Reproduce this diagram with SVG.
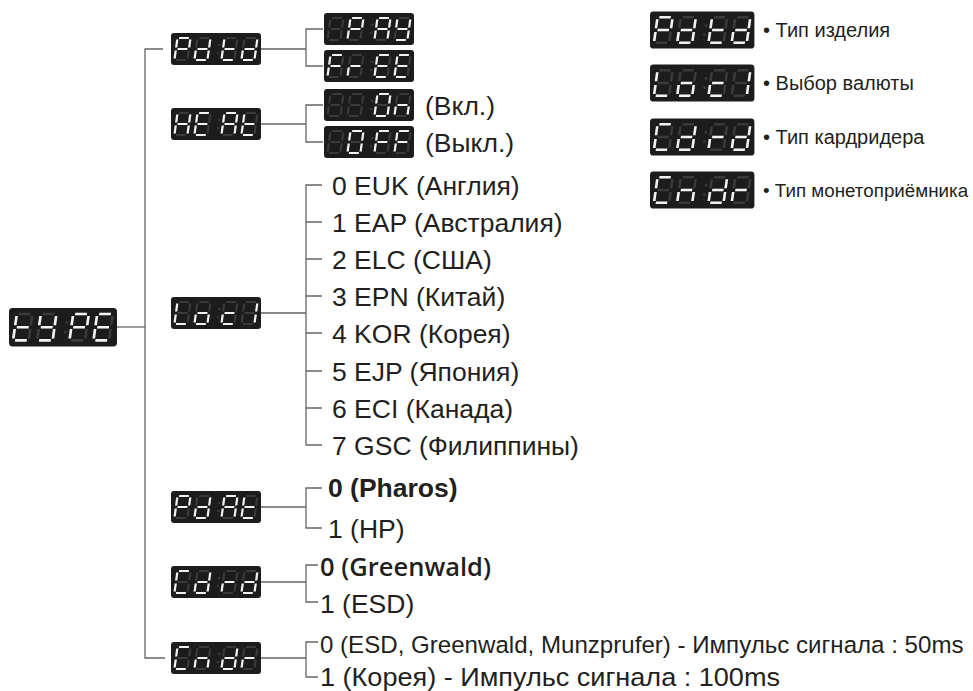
<svg xmlns="http://www.w3.org/2000/svg" xmlns:xlink="http://www.w3.org/1999/xlink" width="973" height="691" viewBox="0 0 973 691">
<style>
.bg{fill:#1c1c1c}
.off{stroke:#3a3a3a;stroke-width:2.2;fill:none}
.on{stroke:#f2f2f2;stroke-width:2.2;fill:none}
.dot{fill:#3a3a3a}
.cn{fill:none;stroke:#666;stroke-width:1.3}
.t{font-family:"Liberation Sans",Arial,Helvetica,sans-serif;font-size:26.5px;fill:#231f20}
.lg{font-family:"Liberation Sans",Arial,Helvetica,sans-serif;font-size:20px;fill:#231f20}
.b{font-weight:bold}
.sb{font-family:"Open Sans","Liberation Sans",sans-serif;font-weight:600;font-size:25.5px}
</style>
<defs>
<line id="sa" x1="1.6" y1="0" x2="11.4" y2="0"/>
<line id="sb" x1="13" y1="1.6" x2="13" y2="9.4"/>
<line id="sc" x1="13" y1="12.6" x2="13" y2="20.4"/>
<line id="sd" x1="1.6" y1="22" x2="11.4" y2="22"/>
<line id="se" x1="0" y1="12.6" x2="0" y2="20.4"/>
<line id="sf" x1="0" y1="1.6" x2="0" y2="9.4"/>
<line id="sg" x1="1.6" y1="11" x2="11.4" y2="11"/>
<g id="d8"><use href="#sa"/><use href="#sb"/><use href="#sc"/><use href="#sd"/><use href="#se"/><use href="#sf"/><use href="#sg"/></g>
<g id="pane">
<rect class="bg" x="0" y="0" width="90" height="32" rx="3"/>
<g class="off">
<use href="#d8" transform="translate(6.5,5) skewX(-8)"/>
<use href="#d8" transform="translate(26.5,5) skewX(-8)"/>
<use href="#d8" transform="translate(53.5,5) skewX(-8)"/>
<use href="#d8" transform="translate(73.5,5) skewX(-8)"/>
</g>
<circle class="dot" cx="48.2" cy="12" r="1.2"/>
<circle class="dot" cx="47" cy="20" r="1.2"/>
</g>
<g id="cP"><use href="#sa"/><use href="#sb"/><use href="#se"/><use href="#sf"/><use href="#sg"/></g>
<g id="cd"><use href="#sb"/><use href="#sc"/><use href="#sd"/><use href="#se"/><use href="#sg"/></g>
<g id="ct"><use href="#sd"/><use href="#se"/><use href="#sf"/><use href="#sg"/></g>
<g id="cY"><use href="#sb"/><use href="#sc"/><use href="#sd"/><use href="#sf"/><use href="#sg"/></g>
<g id="cE"><use href="#sa"/><use href="#sd"/><use href="#se"/><use href="#sf"/><use href="#sg"/></g>
<g id="cH"><use href="#sb"/><use href="#sc"/><use href="#se"/><use href="#sf"/><use href="#sg"/></g>
<g id="cA"><use href="#sa"/><use href="#sb"/><use href="#sc"/><use href="#se"/><use href="#sf"/><use href="#sg"/></g>
<g id="cL"><use href="#sd"/><use href="#se"/><use href="#sf"/></g>
<g id="co"><use href="#sc"/><use href="#sd"/><use href="#se"/><use href="#sg"/></g>
<g id="cc"><use href="#sd"/><use href="#se"/><use href="#sg"/></g>
<g id="c1"><use href="#sb"/><use href="#sc"/></g>
<g id="cC"><use href="#sa"/><use href="#sd"/><use href="#se"/><use href="#sf"/></g>
<g id="cr"><use href="#se"/><use href="#sg"/></g>
<g id="cn"><use href="#sc"/><use href="#se"/><use href="#sg"/></g>
<g id="cF"><use href="#sa"/><use href="#se"/><use href="#sf"/><use href="#sg"/></g>
<g id="cO"><use href="#sa"/><use href="#sb"/><use href="#sc"/><use href="#sd"/><use href="#se"/><use href="#sf"/></g>
</defs>
<rect width="973" height="691" fill="#ffffff"/>

<g id="connectors" class="cn">
<path d="M163,49 H145 V658 H165"/>
<path d="M117,327 H145"/>
<path d="M261,49 H306 M323,29 H306 V66 H323"/>
<path d="M261,124 H306 M323,105 H306 V142 H323"/>
<path d="M261,313 H306 M322,185 H306 V445 H322 M306,222 H322 M306,259 H322 M306,296 H322 M306,333 H322 M306,371 H322 M306,408 H322"/>
<path d="M261,507 H306 M322,488 H306 V528 H322"/>
<path d="M261,582 H306 M318,565 H306 V602 H318"/>
<path d="M261,658 H306 M318,642 H306 V677 H318"/>
</g>

<g id="node-type" aria-label="tYPE" transform="translate(9,308) scale(1.2)"><use href="#pane"/><g class="on">
<use href="#ct" transform="translate(6.5,5) skewX(-8)"/><use href="#cY" transform="translate(26.5,5) skewX(-8)"/><use href="#cP" transform="translate(53.5,5) skewX(-8)"/><use href="#cE" transform="translate(73.5,5) skewX(-8)"/></g></g>

<g id="node-pdtd" aria-label="Pdtd" transform="translate(171,33)"><use href="#pane"/><g class="on">
<use href="#cP" transform="translate(6.5,5) skewX(-8)"/><use href="#cd" transform="translate(26.5,5) skewX(-8)"/><use href="#ct" transform="translate(53.5,5) skewX(-8)"/><use href="#cd" transform="translate(73.5,5) skewX(-8)"/></g></g>

<g id="node-pay" aria-label="PAY" transform="translate(324,13)"><use href="#pane"/><g class="on">
<use href="#cP" transform="translate(26.5,5) skewX(-8)"/><use href="#cA" transform="translate(53.5,5) skewX(-8)"/><use href="#cY" transform="translate(73.5,5) skewX(-8)"/></g></g>

<g id="node-free" aria-label="FrEE" transform="translate(324,50)"><use href="#pane"/><g class="on">
<use href="#cF" transform="translate(6.5,5) skewX(-8)"/><use href="#cr" transform="translate(26.5,5) skewX(-8)"/><use href="#cE" transform="translate(53.5,5) skewX(-8)"/><use href="#cE" transform="translate(73.5,5) skewX(-8)"/></g></g>

<g id="node-heat" aria-label="HEAt" transform="translate(171,108)"><use href="#pane"/><g class="on">
<use href="#cH" transform="translate(6.5,5) skewX(-8)"/><use href="#cE" transform="translate(26.5,5) skewX(-8)"/><use href="#cA" transform="translate(53.5,5) skewX(-8)"/><use href="#ct" transform="translate(73.5,5) skewX(-8)"/></g></g>

<g id="node-on" aria-label="On" transform="translate(324,89)"><use href="#pane"/><g class="on">
<use href="#cO" transform="translate(53.5,5) skewX(-8)"/><use href="#cn" transform="translate(73.5,5) skewX(-8)"/></g></g>
<text class="t" x="425" y="114.5">(Вкл.)</text>

<g id="node-off" aria-label="OFF" transform="translate(324,126)"><use href="#pane"/><g class="on">
<use href="#cO" transform="translate(26.5,5) skewX(-8)"/><use href="#cF" transform="translate(53.5,5) skewX(-8)"/><use href="#cF" transform="translate(73.5,5) skewX(-8)"/></g></g>
<text class="t" x="425" y="151.5">(Выкл.)</text>

<g id="node-loci" aria-label="LocI" transform="translate(171,297)"><use href="#pane"/><g class="on">
<use href="#cL" transform="translate(6.5,5) skewX(-8)"/><use href="#co" transform="translate(26.5,5) skewX(-8)"/><use href="#cc" transform="translate(53.5,5) skewX(-8)"/><use href="#c1" transform="translate(73.5,5) skewX(-8)"/></g></g>

<g id="loci-items" class="t">
<text x="332" y="194.5">0 EUK (Англия)</text>
<text x="332" y="231.5">1 EAP (Австралия)</text>
<text x="332" y="268.5">2 ELC (США)</text>
<text x="332" y="305.5">3 EPN (Китай)</text>
<text x="332" y="342.5">4 KOR (Корея)</text>
<text x="332" y="380.5">5 EJP (Япония)</text>
<text x="332" y="417.5">6 ECI (Канада)</text>
<text x="332" y="454.5">7 GSC (Филиппины)</text>
</g>

<g id="node-pdat" aria-label="PdAt" transform="translate(171,491)"><use href="#pane"/><g class="on">
<use href="#cP" transform="translate(6.5,5) skewX(-8)"/><use href="#cd" transform="translate(26.5,5) skewX(-8)"/><use href="#cA" transform="translate(53.5,5) skewX(-8)"/><use href="#ct" transform="translate(73.5,5) skewX(-8)"/></g></g>
<text class="t b" x="328" y="496.5">0 (Pharos)</text>
<text class="t" x="328" y="537.5">1 (HP)</text>

<g id="node-cdrd" aria-label="Cdrd" transform="translate(171,566)"><use href="#pane"/><g class="on">
<use href="#cC" transform="translate(6.5,5) skewX(-8)"/><use href="#cd" transform="translate(26.5,5) skewX(-8)"/><use href="#cr" transform="translate(53.5,5) skewX(-8)"/><use href="#cd" transform="translate(73.5,5) skewX(-8)"/></g></g>
<text class="t sb" x="320" y="575.5">0 (Greenwald)</text>
<text class="t" x="320" y="612.5">1 (ESD)</text>

<g id="node-cndr" aria-label="Cndr" transform="translate(171,642)"><use href="#pane"/><g class="on">
<use href="#cC" transform="translate(6.5,5) skewX(-8)"/><use href="#cn" transform="translate(26.5,5) skewX(-8)"/><use href="#cd" transform="translate(53.5,5) skewX(-8)"/><use href="#cr" transform="translate(73.5,5) skewX(-8)"/></g></g>
<text class="t" x="320" y="653" style="font-size:24.1px">0 (ESD, Greenwald, Munzprufer) - Импульс сигнала : 50ms</text>
<text class="t" x="320" y="685.5" textLength="460" lengthAdjust="spacingAndGlyphs">1 (Корея) - Импульс сигнала : 100ms</text>

<g id="legend">
<g id="legend-pdtd" transform="translate(650,11.5) scale(1.16)"><use href="#pane"/><g class="on">
<use href="#cP" transform="translate(6.5,5) skewX(-8)"/><use href="#cd" transform="translate(26.5,5) skewX(-8)"/><use href="#ct" transform="translate(53.5,5) skewX(-8)"/><use href="#cd" transform="translate(73.5,5) skewX(-8)"/></g></g>
<text class="lg" x="763" y="37.2">• Тип изделия</text>
<g id="legend-loci" transform="translate(650,64.5) scale(1.16)"><use href="#pane"/><g class="on">
<use href="#cL" transform="translate(6.5,5) skewX(-8)"/><use href="#co" transform="translate(26.5,5) skewX(-8)"/><use href="#cc" transform="translate(53.5,5) skewX(-8)"/><use href="#c1" transform="translate(73.5,5) skewX(-8)"/></g></g>
<text class="lg" x="763" y="90.2">• Выбор валюты</text>
<g id="legend-cdrd" transform="translate(650,118.5) scale(1.16)"><use href="#pane"/><g class="on">
<use href="#cC" transform="translate(6.5,5) skewX(-8)"/><use href="#cd" transform="translate(26.5,5) skewX(-8)"/><use href="#cr" transform="translate(53.5,5) skewX(-8)"/><use href="#cd" transform="translate(73.5,5) skewX(-8)"/></g></g>
<text class="lg" x="763" y="144.2">• Тип кардридера</text>
<g id="legend-cndr" transform="translate(650,171.5) scale(1.16)"><use href="#pane"/><g class="on">
<use href="#cC" transform="translate(6.5,5) skewX(-8)"/><use href="#cn" transform="translate(26.5,5) skewX(-8)"/><use href="#cd" transform="translate(53.5,5) skewX(-8)"/><use href="#cr" transform="translate(73.5,5) skewX(-8)"/></g></g>
<text class="lg" x="763" y="197" style="font-size:18.8px">• Тип монетоприёмника</text>
</g>
</svg>
